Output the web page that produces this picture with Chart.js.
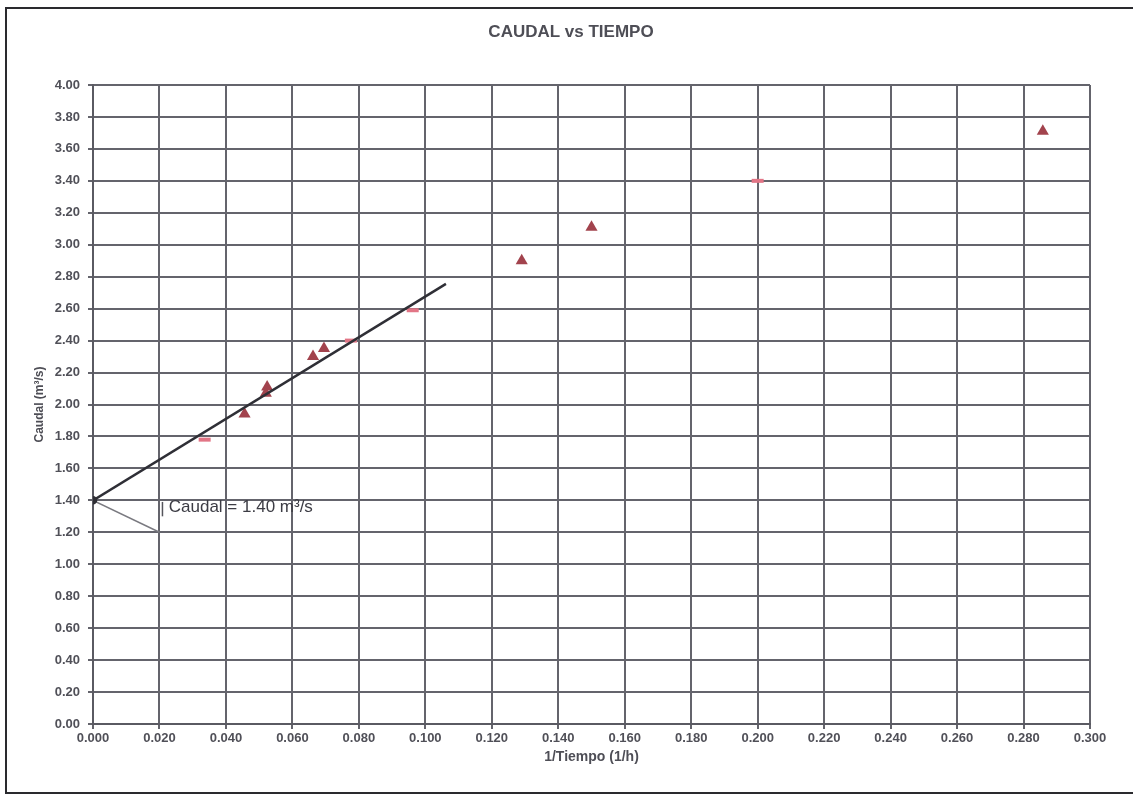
<!DOCTYPE html>
<html>
<head>
<meta charset="utf-8">
<script src="https://cdn.jsdelivr.net/npm/chart.js"></script>
<style>
html, body { margin: 0; padding: 0; background: #fff; }
#caja { position: absolute; left: 0; top: 0; width: 1133px; height: 796px; }
#marco { position: absolute; left: 5px; top: 7px; width: 1140px; height: 783px; border: 2px solid #2a2a2e; pointer-events: none; }
</style>
</head>
<body>
<div id="caja"><canvas id="grafico-caudal"></canvas></div>
<div id="marco"></div>
<script>
// datos
const valoresX = [0.000, 0.020, 0.040, 0.060, 0.080, 0.100, 0.120, 0.140, 0.160, 0.180, 0.200, 0.220, 0.240, 0.260, 0.280, 0.300];
const valoresY = [0.00, 0.20, 0.40, 0.60, 0.80, 1.00, 1.20, 1.40, 1.60, 1.80, 2.00, 2.20, 2.40, 2.60, 2.80, 3.00, 3.20, 3.40, 3.60, 3.80, 4.00];

const triangulosX = [0.0456, 0.0520, 0.0524, 0.0662, 0.0695, 0.1290, 0.1500, 0.2858];
const triangulosY = [1.94, 2.07, 2.11, 2.30, 2.35, 2.90, 3.11, 3.71];

const marcasX = [0.0336, 0.0776, 0.0962, 0.2000];
const marcasY = [1.78, 2.40, 2.59, 3.40];

const tendenciaX = [0.000, 0.1062];
const tendenciaY = [1.40, 2.755];

const guiaX = [0.000, 0.020];
const guiaY = [1.40, 1.20];

const textoCaudal = 'Caudal = 1.40 m³/s';
const posTexto = [0.0228, 1.358];
const barraX = 0.0209;
const barraY = [1.39, 1.30];

const fuente = '"Liberation Sans", Arial, sans-serif';
const pares = (xs, ys) => xs.map((v, i) => ({ x: v, y: ys[i] }));

const anotacion = {
  id: 'anotacion',
  afterDatasetsDraw(chart) {
    const { ctx, scales: { x, y } } = chart;
    ctx.save();
    ctx.strokeStyle = '#55555c';
    ctx.lineWidth = 1.5;
    ctx.beginPath();
    ctx.moveTo(x.getPixelForValue(barraX), y.getPixelForValue(barraY[0]));
    ctx.lineTo(x.getPixelForValue(barraX), y.getPixelForValue(barraY[1]));
    ctx.stroke();
    ctx.font = '17px ' + fuente;
    ctx.fillStyle = '#3c3c44';
    ctx.textBaseline = 'middle';
    ctx.fillText(textoCaudal, x.getPixelForValue(posTexto[0]), y.getPixelForValue(posTexto[1]));
    ctx.restore();
  }
};

const ctx = document.getElementById('grafico-caudal').getContext('2d');
new Chart(ctx, {
  type: 'scatter',
  data: {
    datasets: [
      { label: 'Tendencia', data: pares(tendenciaX, tendenciaY), showLine: true, borderColor: '#2f2f36', borderWidth: 2.5, pointRadius: [3, 0], pointBackgroundColor: '#2f2f36', order: 0 },
      { label: 'Guia', data: pares(guiaX, guiaY), showLine: true, borderColor: '#7a7a80', borderWidth: 1.5, pointRadius: 0, order: 1 },
      { label: 'Caudal', data: pares(triangulosX, triangulosY), pointStyle: 'triangle', pointRadius: 7, backgroundColor: '#a2434d', borderColor: '#a2434d', borderWidth: 0, order: 2 },
      { label: 'Caudal b', data: pares(marcasX, marcasY), pointStyle: 'line', pointRadius: 6, borderColor: '#e27586', borderWidth: 4, order: 2 }
    ]
  },
  options: {
    responsive: true,
    maintainAspectRatio: false,
    animation: false,
    layout: { padding: { left: 52, right: 43, top: 0, bottom: 0 } },
    plugins: {
      legend: { display: false },
      tooltip: { enabled: false },
      title: { display: true, text: 'CAUDAL vs TIEMPO', color: '#4e4e56', font: { family: fuente, size: 17, weight: 'bold' }, padding: { top: 22, bottom: 42.6 } }
    },
    scales: {
      x: {
        type: 'linear', min: 0, max: 0.3,
        afterBuildTicks: s => { s.ticks = valoresX.map(v => ({ value: v })); },
        afterFit: s => { s.height = 72; },
        ticks: { color: '#505058', font: { family: fuente, size: 13, weight: 'bold' }, padding: 2, maxRotation: 0, autoSkip: false, callback: v => v.toFixed(3) },
        grid: { color: '#64646c', lineWidth: 2, tickLength: 5 },
        border: { color: '#5a5a62', width: 2 },
        title: { display: true, text: '1/Tiempo (1/h)', color: '#4e4e56', font: { family: fuente, size: 14, weight: 'bold' }, padding: { top: 0, bottom: 30.6 } }
      },
      y: {
        min: 0, max: 4,
        afterBuildTicks: s => { s.ticks = valoresY.map(v => ({ value: v })); },
        afterFit: s => { s.width = 41; },
        ticks: { color: '#505058', font: { family: fuente, size: 13, weight: 'bold' }, padding: 8, autoSkip: false, callback: v => v.toFixed(2) },
        grid: { color: '#64646c', lineWidth: 2, tickLength: 5 },
        border: { color: '#5a5a62', width: 2 },
        title: { display: true, text: 'Caudal (m³/s)', color: '#4e4e56', font: { family: fuente, size: 12, weight: 'bold' }, padding: { top: -19.2, bottom: 0 } }
      }
    }
  },
  plugins: [anotacion]
});
</script>
</body>
</html>
